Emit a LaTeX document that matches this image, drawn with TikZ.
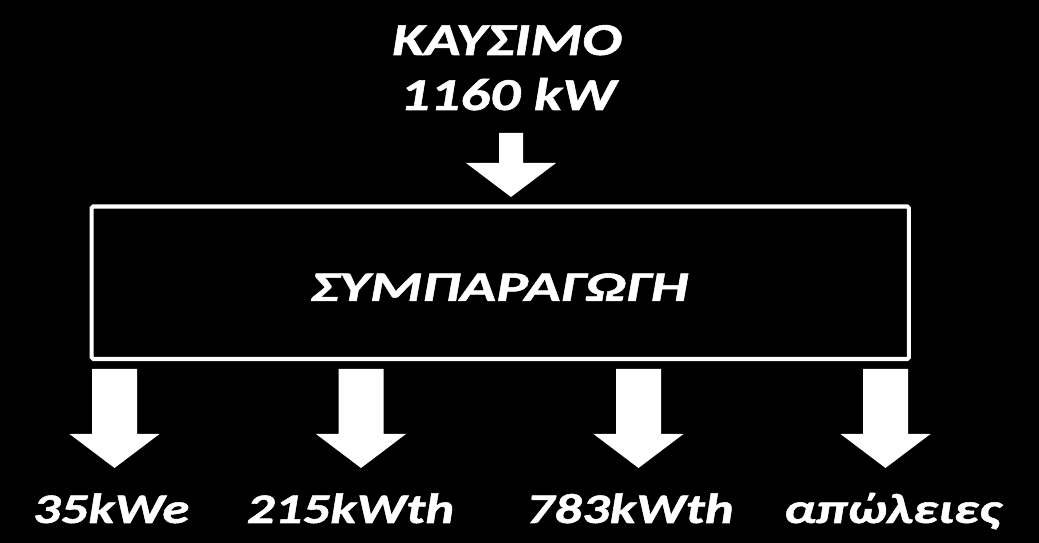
\documentclass[tikz,border=0pt]{standalone}
\usepackage{fontspec}
\setmainfont{Carlito}[FakeStretch=1.3, BoldItalicFeatures={FakeBold=1.2}]
\newfontfamily\widefont{Carlito}[FakeStretch=1.42, BoldItalicFeatures={FakeBold=1.2}]
\usepackage{tikz}
\usetikzlibrary{positioning}
% block arrow pointing down: centre x, top, half shaft, head base, tip
\newcommand{\downblock}[5]{\fill[white] (#1-#3,#2) -- (#1+#3,#2) -- (#1+#3,#4) -- (#1+45,#4) -- (#1,#5) -- (#1-45,#4) -- (#1-#3,#4) -- cycle;}
\tikzset{
  txt/.style={text=white, inner sep=0pt, anchor=base, font=\fontsize{24}{28}\selectfont\bfseries\itshape},
  toptxt/.style={txt, font=\fontsize{26}{30}\selectfont\bfseries\itshape},
  widetxt/.style={txt, font=\fontsize{24}{28}\selectfont\widefont\bfseries\itshape},
  chpbox/.style={draw=white, line width=2.3pt, rounded corners=1pt, minimum width=16.35cm, minimum height=3.05cm}
}
\begin{document}
\begin{tikzpicture}[x=0.02cm, y=-0.02cm]
\fill[black] (0,0) rectangle (1039,543);
\useasboundingbox (0,0) rectangle (1039,543);

\node[toptxt] (fuel) at (507,55) {ΚΑΥΣΙΜΟ};
\node[toptxt] (fuelkw) at (508,110) {1160 kW};
  \downblock{511}{133}{12}{163}{197}

\node[chpbox] (chp) at (500.25,282.75) {};
\node[widetxt] (chplabel) at (499.5,301) {ΣΥΜΠΑΡΑΓΩΓΗ};

  \downblock{114.5}{369}{22.5}{434}{468}
  \downblock{361}{369}{22.5}{434}{468}
  \downblock{638.5}{369}{22.5}{434}{468}
  \downblock{885.5}{369}{22.5}{434}{468}

\node[txt] (elec) at (111,523) {35kWe};
\node[txt] (heatA) at (350.5,523) {215kWth};
\node[txt] (heatB) at (630,523) {783kWth};
\node[txt] (loss) at (892.5,523) {απώλειες};
\end{tikzpicture}
\end{document}
